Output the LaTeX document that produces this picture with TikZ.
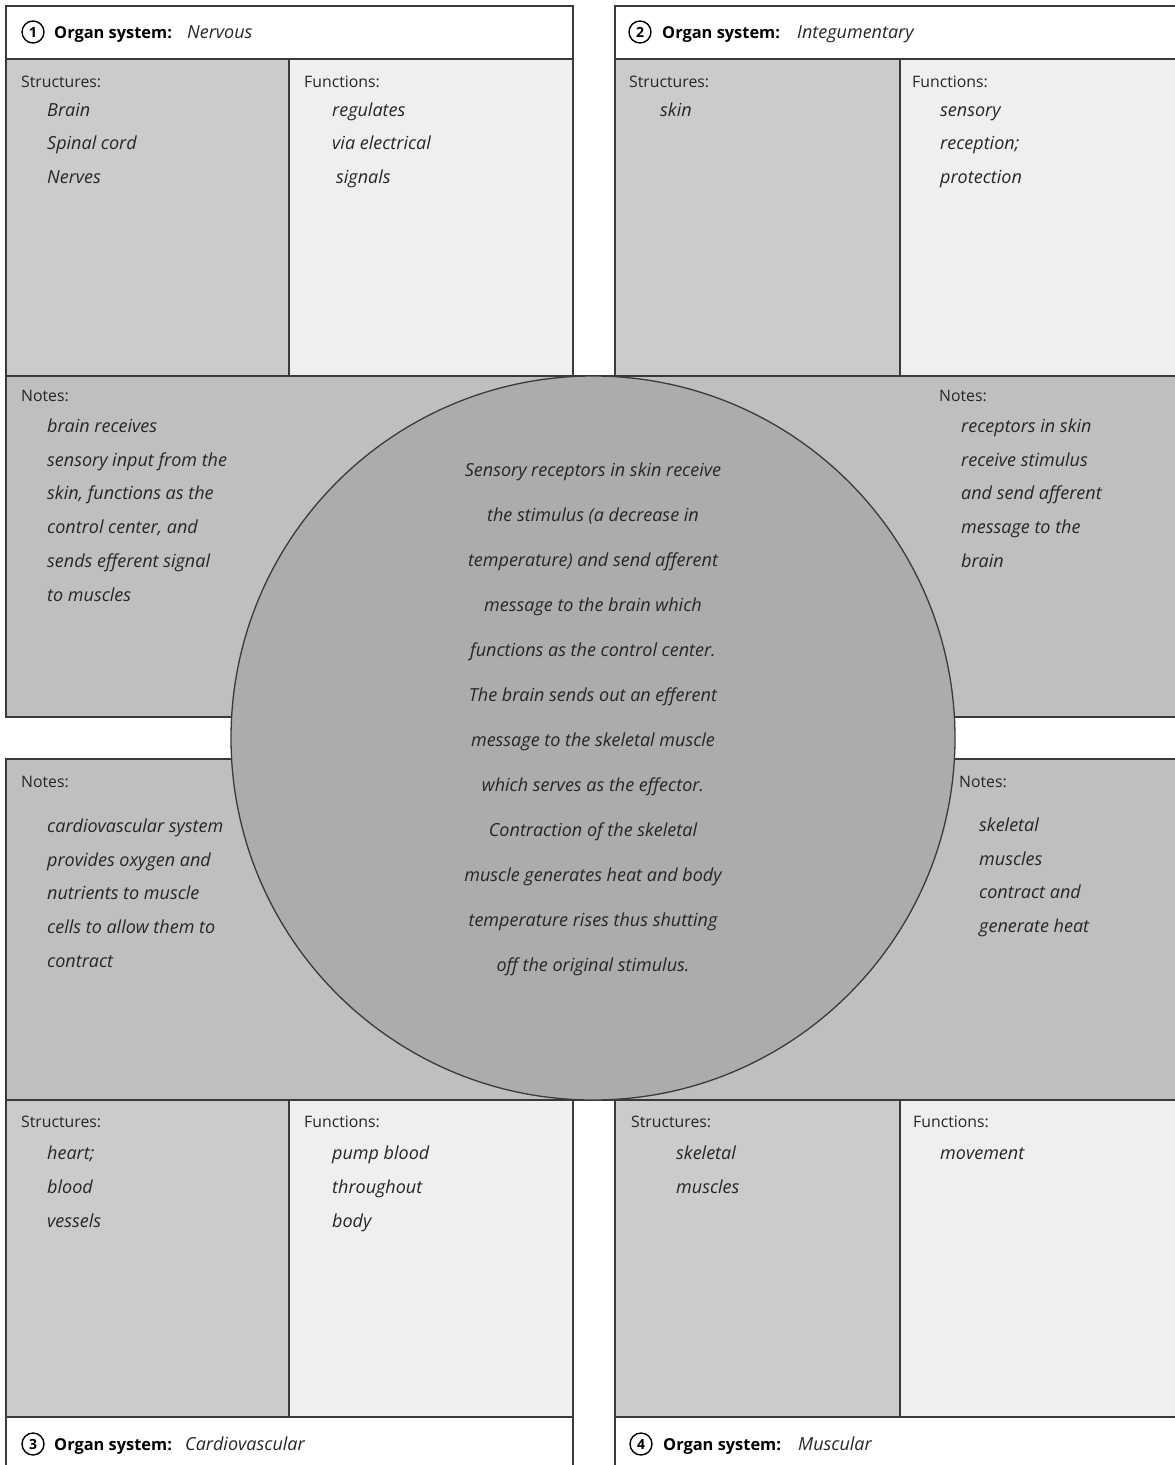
\documentclass[tikz,border=0pt]{standalone}
\usepackage{fontspec}
\setmainfont{Open Sans}
\definecolor{strc}{HTML}{CBCBCB}
\definecolor{funcc}{HTML}{EFEFEF}
\definecolor{notec}{HTML}{BFBFBF}
\definecolor{circc}{HTML}{ACACAC}
\definecolor{linec}{HTML}{3A3A3A}
\begin{document}
\begin{tikzpicture}[x=1pt,y=-1pt,
  box/.style={draw=linec, line width=1.3pt},
  lbl/.style={anchor=base west, inner sep=0pt, text=black!85, font=\fontsize{15.8}{18}\selectfont},
  txt/.style={anchor=base west, inner sep=0pt, text=black!85, font=\fontsize{18}{20}\selectfont\itshape},
  hdr/.style={anchor=base west, inner sep=0pt, font=\fontsize{16.4}{19}\selectfont\bfseries},
  hval/.style={anchor=base west, inner sep=0pt, text=black!85, font=\fontsize{18}{20}\selectfont\itshape},
  numc/.style={circle, draw=black, line width=1.4pt, minimum size=22pt, inner sep=0pt, font=\fontsize{14}{16}\selectfont\bfseries},
  ctxt/.style={align=center, inner sep=0pt, text=black!85, font=\fontsize{18}{45}\selectfont\itshape}
]
\useasboundingbox (0,0) rectangle (1175,1465);
\clip (0,0) rectangle (1175,1465);
\fill[white] (0,0) rectangle (1175,1465);
% top-left panel
\draw[box, fill=white] (6,6) rectangle (573,59);
\draw[box, fill=strc] (6,59) rectangle (289,376);
\draw[box, fill=funcc] (289,59) rectangle (573,376);
% top-right panel
\draw[box, fill=white] (615,6) rectangle (1185,59);
\draw[box, fill=strc] (615,59) rectangle (900,376);
\draw[box, fill=funcc] (900,59) rectangle (1185,376);
% notes rows
\draw[box, fill=notec] (6,376) rectangle (1185,717);
\draw[box, fill=notec] (6,759) rectangle (1185,1100);
% bottom-left panel
\draw[box, fill=strc] (6,1100) rectangle (289,1417);
\draw[box, fill=funcc] (289,1100) rectangle (573,1417);
\draw[box, fill=white] (6,1417) rectangle (573,1480);
% bottom-right panel
\draw[box, fill=strc] (615,1100) rectangle (900,1417);
\draw[box, fill=funcc] (900,1100) rectangle (1185,1417);
\draw[box, fill=white] (615,1417) rectangle (1185,1480);
% central circle
\node[circle, draw=linec, line width=1.3pt, fill=circc, minimum size=724pt, inner sep=0pt] (c) at (593,738) {};
\node[ctxt] (ctext) at (593,719) {Sensory receptors in skin receive\\the stimulus (a decrease in\\temperature) and send afferent\\message to the brain which\\functions as the control center.\\The brain sends out an efferent\\message to the skeletal muscle\\which serves as the effector.\\Contraction of the skeletal\\muscle generates heat and body\\temperature rises thus shutting\\off the original stimulus.};

% ---- panel 1
\node[numc] (n1) at (33,32) {1};
\node[hdr] (h1) at (54,38) {Organ system:};
\node[hval] (v1) at (187,38) {Nervous};
\node[lbl] (s1) at (21,87) {Structures:};
\node[txt] (s1a) at (47,116) {Brain};
\node[txt] (s1b) at (47,149.5) {Spinal cord};
\node[txt] (s1c) at (47,183) {Nerves};
\node[lbl] (f1) at (304,87) {Functions:};
\node[txt] (f1a) at (332,116) {regulates};
\node[txt] (f1b) at (332,149.5) {via electrical};
\node[txt] (f1c) at (336,183) {signals};
\node[lbl] (o1) at (21,401) {Notes:};
\node[txt] (o1a) at (47,432) {brain receives};
\node[txt] (o1b) at (47,466) {sensory input from the};
\node[txt] (o1c) at (47,499.5) {skin, functions as the};
\node[txt] (o1d) at (47,533.5) {control center, and};
\node[txt] (o1e) at (47,567) {sends efferent signal};
\node[txt] (o1f) at (47,601) {to muscles};

% ---- panel 2
\node[numc] (n2) at (640,32) {2};
\node[hdr] (h2) at (662,38) {Organ system:};
\node[hval] (v2) at (797,38) {Integumentary};
\node[lbl] (s2) at (629,87) {Structures:};
\node[txt] (s2a) at (660,116) {skin};
\node[lbl] (f2) at (912,87) {Functions:};
\node[txt] (f2a) at (940,116) {sensory};
\node[txt] (f2b) at (940,149.5) {reception;};
\node[txt] (f2c) at (940,183) {protection};
\node[lbl] (o2) at (939,401) {Notes:};
\node[txt] (o2a) at (961,432) {receptors in skin};
\node[txt] (o2b) at (961,466) {receive stimulus};
\node[txt] (o2c) at (961,499.5) {and send afferent};
\node[txt] (o2d) at (961,533.5) {message to the};
\node[txt] (o2e) at (961,567) {brain};

% ---- panel 3
\node[lbl] (o3) at (21,787) {Notes:};
\node[txt] (o3a) at (47,832) {cardiovascular system};
\node[txt] (o3b) at (47,866) {provides oxygen and};
\node[txt] (o3c) at (47,899.5) {nutrients to muscle};
\node[txt] (o3d) at (47,933.5) {cells to allow them to};
\node[txt] (o3e) at (47,967) {contract};
\node[lbl] (s3) at (21,1127) {Structures:};
\node[txt] (s3a) at (47,1159) {heart;};
\node[txt] (s3b) at (47,1193) {blood};
\node[txt] (s3c) at (47,1227) {vessels};
\node[lbl] (f3) at (304,1127) {Functions:};
\node[txt] (f3a) at (332,1159) {pump blood};
\node[txt] (f3b) at (332,1193) {throughout};
\node[txt] (f3c) at (332,1227) {body};
\node[numc] (n3) at (33,1444) {3};
\node[hdr] (h3) at (54,1450) {Organ system:};
\node[hval] (v3) at (185,1450) {Cardiovascular};

% ---- panel 4
\node[lbl] (o4) at (959,787) {Notes:};
\node[txt] (o4a) at (979,831) {skeletal};
\node[txt] (o4b) at (979,865) {muscles};
\node[txt] (o4c) at (979,898.5) {contract and};
\node[txt] (o4d) at (979,932.5) {generate heat};
\node[lbl] (s4) at (631,1127) {Structures:};
\node[txt] (s4a) at (676,1159) {skeletal};
\node[txt] (s4b) at (676,1193) {muscles};
\node[lbl] (f4) at (913,1127) {Functions:};
\node[txt] (f4a) at (940,1159) {movement};
\node[numc] (n4) at (641,1444) {4};
\node[hdr] (h4) at (663,1450) {Organ system:};
\node[hval] (v4) at (798,1450) {Muscular};
\end{tikzpicture}
\end{document}
